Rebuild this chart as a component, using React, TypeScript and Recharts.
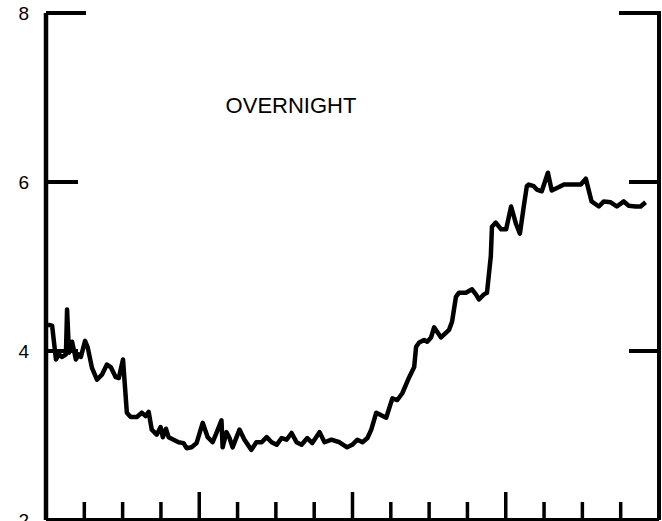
import { Line, LineChart, ReferenceLine, XAxis, YAxis } from "recharts";

// hours into the night
const HOURS = [
  0.05, 0.16, 0.26, 0.34, 0.42, 0.52, 0.55, 0.6, 0.68, 0.73, 0.78, 0.86, 0.91,
  1.02, 1.09, 1.2, 1.33, 1.46, 1.59, 1.69, 1.82, 1.9, 2.01, 2.11, 2.21, 2.37,
  2.5, 2.6, 2.68, 2.76, 2.89, 2.99, 3.05, 3.13, 3.2, 3.33, 3.46, 3.59, 3.67,
  3.8, 3.93, 4.09, 4.22, 4.35, 4.45, 4.58, 4.61, 4.71, 4.79, 4.87, 5.05, 5.18,
  5.36, 5.49, 5.63, 5.76, 5.89, 6.02, 6.15, 6.28, 6.41, 6.54, 6.67, 6.82, 6.95,
  7.14, 7.27, 7.45, 7.66, 7.86, 7.99, 8.13, 8.26, 8.39, 8.49, 8.62, 8.75, 8.88,
  9.04, 9.17, 9.3, 9.48, 9.61, 9.66, 9.74, 9.87, 9.95, 10.05, 10.13, 10.31,
  10.52, 10.6, 10.7, 10.78, 10.96, 11.12, 11.22, 11.3, 11.43, 11.51, 11.61,
  11.64, 11.74, 11.88, 12.01, 12.14, 12.27, 12.37, 12.47, 12.55, 12.6, 12.73,
  12.81, 12.94, 13.1, 13.2, 13.39, 13.52, 13.72, 13.96, 14.09, 14.24, 14.43,
  14.56, 14.74, 14.9, 15.08, 15.21, 15.39, 15.52, 15.65,
];

const LEVEL = [
  4.31, 4.3, 3.9, 3.96, 3.93, 3.96, 4.49, 3.98, 4.11, 4.01, 3.9, 3.96, 3.93,
  4.12, 4.04, 3.8, 3.66, 3.72, 3.84, 3.81, 3.69, 3.68, 3.9, 3.27, 3.22, 3.22,
  3.27, 3.23, 3.28, 3.07, 3.01, 3.1, 2.98, 3.08, 2.98, 2.95, 2.92, 2.91, 2.85,
  2.86, 2.91, 3.15, 2.98, 2.92, 3.03, 3.18, 2.86, 3.04, 2.97, 2.86, 3.07, 2.95,
  2.83, 2.92, 2.92, 2.98, 2.92, 2.89, 2.97, 2.95, 3.03, 2.92, 2.89, 2.97, 2.91,
  3.04, 2.92, 2.95, 2.92, 2.86, 2.89, 2.95, 2.92, 2.97, 3.07, 3.27, 3.24, 3.21,
  3.44, 3.42, 3.5, 3.69, 3.81, 4.05, 4.1, 4.13, 4.11, 4.16, 4.28, 4.16,
  4.25, 4.35, 4.64, 4.69, 4.69, 4.73, 4.67, 4.61, 4.67, 4.69, 5.12,
  5.47, 5.52, 5.44, 5.44, 5.71, 5.5, 5.39, 5.71, 5.95, 5.97, 5.95,
  5.91, 5.89, 6.11, 5.9, 5.94, 5.97, 5.97, 5.97, 6.04, 5.77, 5.71,
  5.77, 5.76, 5.71, 5.77, 5.72, 5.71, 5.71, 5.76,
];

const X_TICKS = [1, 2, 3, 4, 5, 6, 7, 8, 9, 10, 11, 12, 13, 14, 15];
const Y_TICKS = [2, 4, 6, 8];

const data = HOURS.map((h, i) => ({ hour: h, level: LEVEL[i] }));

const FONT = '"Liberation Sans", Arial, Helvetica, sans-serif';
const PLOT_LEFT = 46;
const PLOT_RIGHT = 659;
const PLOT_BOTTOM = 520;

function BottomTick(props: any) {
  const { x, payload } = props;
  const len = payload.value % 4 === 0 ? 28 : 18;
  return (
    <line x1={x} x2={x} y1={PLOT_BOTTOM} y2={PLOT_BOTTOM - len} stroke="#000" strokeWidth={3.5} />
  );
}

// left tick + label, and the matching inward tick on the right frame
function SideTick(props: any) {
  const { y, payload } = props;
  const v = payload.value;
  const lenL = v === 8 ? 40 : v === 2 ? 0 : 32;
  const lenR = v === 8 ? 40 : v === 2 ? 0 : 30;
  return (
    <g>
      {lenL > 0 && (
        <line x1={PLOT_LEFT} x2={PLOT_LEFT + lenL} y1={y} y2={y} stroke="#000" strokeWidth={4} />
      )}
      {lenR > 0 && (
        <line x1={PLOT_RIGHT - lenR} x2={PLOT_RIGHT + 2} y1={y} y2={y} stroke="#000" strokeWidth={4} />
      )}
      <text x={29} y={y} dy={7} textAnchor="end" fontSize={19} fontFamily={FONT} fill="#000">
        {v}
      </text>
    </g>
  );
}

export default function App() {
  return (
    <div style={{ position: "absolute", left: 0, top: 0, width: 662, height: 521, background: "#fff" }}>
      <LineChart
        width={662}
        height={521}
        data={data}
        margin={{ top: 13, right: 662 - PLOT_RIGHT, bottom: 0, left: 0 }}
      >
        <XAxis
          dataKey="hour"
          type="number"
          domain={[0, 16]}
          ticks={X_TICKS}
          tick={<BottomTick />}
          tickLine={false}
          axisLine={{ stroke: "#000", strokeWidth: 4 }}
          height={1}
          interval={0}
        />
        <YAxis
          type="number"
          domain={[2, 8]}
          ticks={Y_TICKS}
          tick={<SideTick />}
          tickLine={false}
          axisLine={{ stroke: "#000", strokeWidth: 4.5 }}
          width={PLOT_LEFT}
          interval={0}
        />
        <ReferenceLine x={16} stroke="#000" strokeWidth={4} ifOverflow="visible" />
        <Line
          dataKey="level"
          type="linear"
          stroke="#000"
          strokeWidth={4.5}
          strokeLinejoin="round"
          dot={false}
          isAnimationActive={false}
        />
        <text x={291} y={113} textAnchor="middle" fontSize={22} fontFamily={FONT} fill="#000">
          OVERNIGHT
        </text>
      </LineChart>
    </div>
  );
}
